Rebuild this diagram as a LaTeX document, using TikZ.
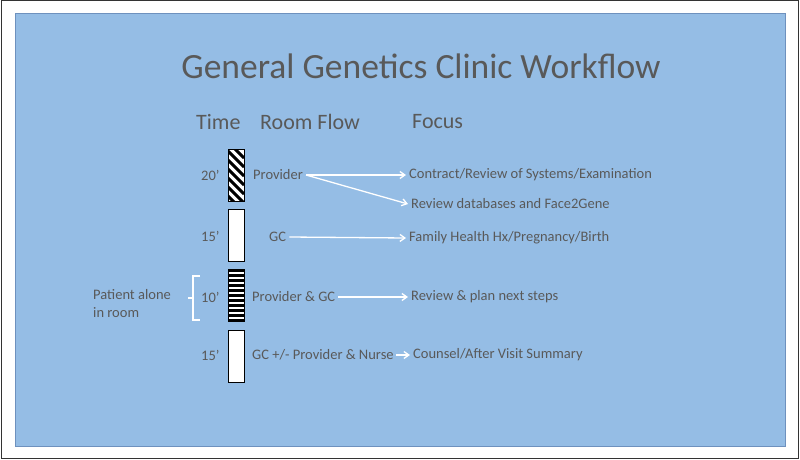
\documentclass[tikz,border=0pt]{standalone}
\usepackage{fontspec}
\setmainfont{Carlito}
\usetikzlibrary{arrows.meta}
\definecolor{bgblue}{RGB}{149,189,229}
\definecolor{bgedge}{RGB}{110,145,190}
\definecolor{txt}{RGB}{89,89,89}
\tikzset{
  lbl/.style={anchor=west,text=txt,font=\fontsize{14.5}{16}\selectfont,inner sep=3pt},
  hdr/.style={anchor=west,text=txt,font=\fontsize{22}{25}\selectfont,inner sep=0pt},
  flow/.style={draw=white,line width=1.3pt,-{Straight Barb[length=5pt,width=7pt]}},
  bar/.style={draw=black,line width=0.8pt},
}
\begin{document}
\begin{tikzpicture}[x=1pt,y=-1pt]
\useasboundingbox (0,0) rectangle (800,460);
\draw[fill=white,draw=black!80,line width=1pt] (1,1) rectangle (798,458);
\draw[fill=bgblue,draw=bgedge,line width=0.8pt] (15,13) rectangle (785,446);
\node[text=txt,font=\fontsize{35.5}{40}\selectfont,inner sep=0pt] (title) at (421,66) {General Genetics Clinic Workflow};
\node[hdr] (htime) at (196,122) {Time};
\node[hdr] (hroom) at (260,122) {Room Flow};
\node[hdr] (hfocus) at (412,122) {Focus};
% bars
\begin{scope}
  \clip (228,149) rectangle (244,201);
  \fill[white] (228,149) rectangle (244,201);
  \foreach \k in {-3,...,8} {
    \draw[black,line width=3pt] (228,149+\k*9-16) -- (244,149+\k*9);
  }
\end{scope}
\draw[bar] (228,149) rectangle (244,201);
\draw[bar,fill=white] (228,209) rectangle (244,261);
\begin{scope}
  \clip (228,269) rectangle (244,321);
  \fill[white] (228,269) rectangle (244,321);
  \foreach \k in {0,...,10} {
    \fill[black] (228,269+\k*5) rectangle (244,269+\k*5+3);
  }
\end{scope}
\draw[bar] (228,269) rectangle (244,321);
\draw[bar,fill=white] (228,330) rectangle (244,382);
% time labels
\node[lbl] (t1) at (198,175) {20’};
\node[lbl] (t2) at (198,236) {15’};
\node[lbl] (t3) at (198,297) {10’};
\node[lbl] (t4) at (198,355) {15’};
% room flow
\node[lbl] (r1) at (250,175) {Provider};
\node[lbl] (r2) at (266,237) {GC};
\node[lbl] (r3) at (249,297) {Provider \& GC};
\node[lbl] (r4) at (249,355) {GC +/- Provider \& Nurse};
% focus
\node[lbl] (f1) at (406,175) {Contract/Review of Systems/Examination};
\node[lbl] (f2) at (408,204) {Review databases and Face2Gene};
\node[lbl] (f3) at (406,238) {Family Health Hx/Pregnancy/Birth};
\node[lbl] (f4) at (408,297) {Review \& plan next steps};
\node[lbl] (f5) at (410,355) {Counsel/After Visit Summary};
% arrows
\draw[flow] (r1.east) -- (f1.west);
\draw[flow] (r1.east) -- (f2.west);
\draw[flow] (r2.east) -- (f3.west);
\draw[flow] (r3.east) -- (f4.west);
\draw[flow,shorten <=-1pt] (r4.east) -- (f5.west);
% brace
\coordinate (btop) at (200,276);
\coordinate (bbot) at (200,320);
\draw[white,line width=1.5pt] (btop) -- ++(-7,0) -- ++(0,22) -- ++(-5,0) ++(5,0) -- ++(0,22) -- (bbot);
\node[lbl,align=left,anchor=west,font=\fontsize{14.5}{18}\selectfont] (pat) at (90,304) {Patient alone\\in room};
\end{tikzpicture}
\end{document}
